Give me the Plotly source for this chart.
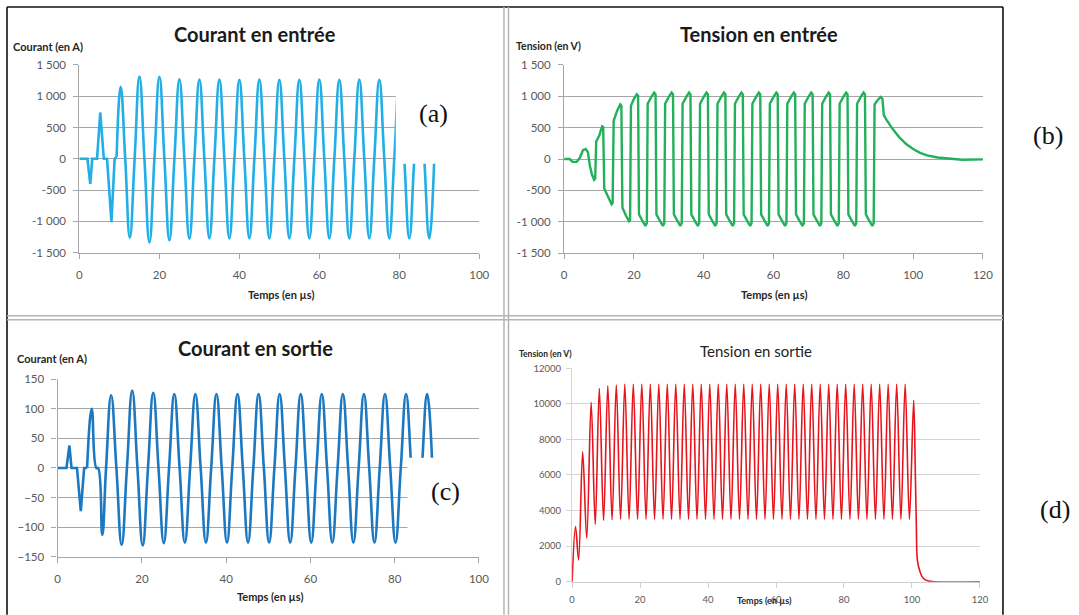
import plotly.graph_objects as go

W, H = 1079, 615

# ---------------- (a) Courant en entrée ----------------
t_a = [0, 2.0, 2.7, 3.2, 4.4, 5.2, 6.1, 6.9, 8.0, 8.8, 9.3, 10.3,
       11.45, 12.6, 13.8,
       15.0, 16.25, 17.5, 18.75, 20.0, 21.25, 22.5, 23.75,
       25.0, 26.25, 27.5, 28.75, 30.0, 31.25, 32.5, 33.75,
       35.0, 36.25, 37.5, 38.75, 40.0, 41.25, 42.5, 43.75,
       45.0, 46.25, 47.5, 48.75, 50.0, 51.25, 52.5, 53.75,
       55.0, 56.25, 57.5, 58.75, 60.0, 61.25, 62.5, 63.75,
       65.0, 66.25, 67.5, 68.75, 70.0, 71.25, 72.5, 73.75,
       75.0, 76.25, 77.5, 78.75, 80.0, 81.25, 82.5, 83.75,
       85.0, 86.25, 87.5, 88.75]
v_a = [0, 0, -400, 0, 0, 740, 0, 0, -1010, 0, 30, 1150,
       0, -1260, 0,
       1315, 0, -1335, 0, 1310, 0, -1300, 0,
       1270, 0, -1275, 0, 1265, 0, -1270, 0,
       1265, 0, -1270, 0, 1260, 0, -1270, 0,
       1265, 0, -1270, 0, 1260, 0, -1270, 0,
       1260, 0, -1270, 0, 1265, 0, -1270, 0,
       1260, 0, -1270, 0, 1265, 0, -1270, 0,
       1260, 0, -1270, 0, 1260, 0, -1270, 0,
       1260, 0, -1270, 0]
A_SPLIT = 10  # index where the smooth oscillation starts

# ---------------- (b) Tension en entrée ----------------
t_b = [0, 1.6, 2.4, 3.6, 4.5, 5.4, 6.2, 6.8, 7.4, 8.0, 8.6, 8.9,
       9.2, 10.1, 10.9, 11.2, 11.5, 12.6, 13.6, 13.9,
       14.2, 15.2, 16.1, 16.4, 16.7, 17.7, 18.6, 18.9,
       19.15, 20.0, 20.8, 21.2, 21.45, 22.5, 23.3, 23.7,
       23.95, 25.0, 25.8, 26.2, 26.45, 27.5, 28.3, 28.7,
       28.95, 30.0, 30.8, 31.2, 31.45, 32.5, 33.3, 33.7,
       33.95, 35.0, 35.8, 36.2, 36.45, 37.5, 38.3, 38.7,
       38.95, 40.0, 40.8, 41.2, 41.45, 42.5, 43.3, 43.7,
       43.95, 45.0, 45.8, 46.2, 46.45, 47.5, 48.3, 48.7,
       48.95, 50.0, 50.8, 51.2, 51.45, 52.5, 53.3, 53.7,
       53.95, 55.0, 55.8, 56.2, 56.45, 57.5, 58.3, 58.7,
       58.95, 60.0, 60.8, 61.2, 61.45, 62.5, 63.3, 63.7,
       63.95, 65.0, 65.8, 66.2, 66.45, 67.5, 68.3, 68.7,
       68.95, 70.0, 70.8, 71.2, 71.45, 72.5, 73.3, 73.7,
       73.95, 75.0, 75.8, 76.2, 76.45, 77.5, 78.3, 78.7,
       78.95, 80.0, 80.8, 81.2, 81.45, 82.5, 83.3, 83.7,
       83.95, 85.0, 85.8, 86.2, 86.45, 87.5, 88.3, 88.7,
       88.95, 90.0, 90.7, 91.2, 91.6, 92.2, 93, 94, 95, 96, 98, 100,
       102, 104, 107, 110, 114, 120]
v_b = [0, 0, -45, -45, 20, 140, 160, 110, -110, -250, -330, -310,
       280, 380, 520, 510, -470, -610, -720, -700,
       610, 770, 870, 850, -770, -900, -990, -970,
       850, 960, 1030, 1010, -880, -990, -1065, -1020,
       880, 990, 1060, 1030, -880, -990, -1065, -1020,
       880, 990, 1060, 1030, -880, -990, -1065, -1020,
       880, 990, 1060, 1030, -880, -990, -1065, -1020,
       880, 990, 1060, 1030, -880, -990, -1065, -1020,
       880, 990, 1060, 1030, -880, -990, -1065, -1020,
       880, 990, 1060, 1030, -880, -990, -1065, -1020,
       880, 990, 1060, 1030, -880, -990, -1065, -1020,
       880, 990, 1060, 1030, -880, -990, -1065, -1020,
       880, 990, 1060, 1030, -880, -990, -1065, -1020,
       880, 990, 1060, 1030, -880, -990, -1065, -1020,
       880, 990, 1060, 1030, -880, -990, -1065, -1020,
       880, 990, 1060, 1030, -880, -990, -1065, -1020,
       880, 990, 1060, 1030, -880, -990, -1065, -1020,
       870, 950, 990, 960, 700, 640, 570, 490, 420, 350, 240, 160,
       100, 60, 25, 5, -10, -5]

# ---------------- (c) Courant en sortie ----------------
t_c = [0, 2.1, 2.8, 3.3, 4.6, 5.5, 6.3, 7.0, 8.1, 9.2, 9.6, 10.6, 11.5,
       12.7, 13.95, 15.2, 16.45,
       17.7, 18.95, 20.2, 21.45,
       22.7, 23.95, 25.2, 26.45,
       27.7, 28.95, 30.2, 31.45,
       32.7, 33.95, 35.2, 36.45,
       37.7, 38.95, 40.2, 41.45,
       42.7, 43.95, 45.2, 46.45,
       47.7, 48.95, 50.2, 51.45,
       52.7, 53.95, 55.2, 56.45,
       57.7, 58.95, 60.2, 61.45,
       62.7, 63.95, 65.2, 66.45,
       67.7, 68.95, 70.2, 71.45,
       72.7, 73.95, 75.2, 76.45,
       77.7, 78.95, 80.2, 81.45,
       82.7, 83.95, 85.2, 86.45,
       87.7, 88.95]
v_c = [0, 0, 38, 0, 0, -73, 0, 0, 100, 0, 0, -113, 0,
       123, 0, -130, 0,
       131, 0, -131, 0,
       127, 0, -127, 0,
       125, 0, -126, 0,
       125, 0, -126, 0,
       125, 0, -126, 0,
       125, 0, -126, 0,
       125, 0, -126, 0,
       125, 0, -126, 0,
       125, 0, -126, 0,
       125, 0, -126, 0,
       125, 0, -126, 0,
       125, 0, -126, 0,
       125, 0, -126, 0,
       125, 0, -126, 0,
       125, 0]
C_SPLIT = 7  # index where the smooth oscillation starts

# ---------------- (d) Tension en sortie ----------------
t_d = [0, 1.0, 1.9, 3.1, 4.3, 5.6, 6.8,
       8.0, 9.25, 10.5, 11.75, 13.0, 14.25, 15.5, 16.75, 18.0, 19.25,
       20.5, 21.75, 23.0, 24.25, 25.5, 26.75, 28.0, 29.25, 30.5, 31.75,
       33.0, 34.25, 35.5, 36.75, 38.0, 39.25, 40.5, 41.75, 43.0, 44.25,
       45.5, 46.75, 48.0, 49.25, 50.5, 51.75, 53.0, 54.25, 55.5, 56.75,
       58.0, 59.25, 60.5, 61.75, 63.0, 64.25, 65.5, 66.75, 68.0, 69.25,
       70.5, 71.75, 73.0, 74.25, 75.5, 76.75, 78.0, 79.25, 80.5, 81.75,
       83.0, 84.25, 85.5, 86.75, 88.0, 89.25, 90.5, 91.75, 93.0, 94.25,
       95.5, 96.75, 98.0, 99.25,
       100.5, 101.0, 101.3, 101.6, 102.4, 103.3, 104.8, 106.5, 120]
v_d = [0, 3100, 1230, 7300, 2450, 10080, 3230,
       10860, 3440, 11010, 3480, 11050, 3500, 11100, 3500, 11100, 3500,
       11100, 3500, 11100, 3500, 11100, 3500, 11100, 3500, 11100, 3500,
       11100, 3500, 11100, 3500, 11100, 3500, 11100, 3500, 11100, 3500,
       11100, 3500, 11100, 3500, 11100, 3500, 11100, 3500, 11100, 3500,
       11100, 3500, 11100, 3500, 11100, 3500, 11100, 3500, 11100, 3500,
       11100, 3500, 11100, 3500, 11100, 3500, 11100, 3500, 11100, 3500,
       11100, 3500, 11100, 3500, 11100, 3500, 11100, 3500, 11100, 3500,
       11100, 3500, 11100, 3500,
       10200, 6000, 3000, 1200, 550, 200, 40, 0, 0]

# tick labels
yt_ab = [-1500, -1000, -500, 0, 500, 1000, 1500]
yt_ab_txt = ["-1 500", "-1 000", "-500", "0", "500", "1 000", "1 500"]
xt_100 = [0, 20, 40, 60, 80, 100]
xt_120 = [0, 20, 40, 60, 80, 100, 120]
yt_c = [-150, -100, -50, 0, 50, 100, 150]
yt_d = [0, 2000, 4000, 6000, 8000, 10000, 12000]
yt_d_txt = ["0", "2000", "4000", "6000", "8000", "10000", "12000"]

# screenshot framing compensation (page -> picture mapping observed)
SX, OX, SY, OY = 0.986, 3.0, 0.981, 6.0


def X(px):
    return ((px - OX) / SX) / W


def Y(py):
    return 1 - ((py - OY) / SY) / H


col_a, col_b, col_c, col_d = "#22aee6", "#22b05a", "#1c78c0", "#e8141c"

fig = go.Figure()
fig.add_trace(go.Scatter(x=t_a[:A_SPLIT + 1], y=v_a[:A_SPLIT + 1], xaxis="x", yaxis="y", mode="lines",
                         line=dict(color=col_a, width=2.6),
                         showlegend=False, hoverinfo="skip"))
fig.add_trace(go.Scatter(x=t_a[A_SPLIT:], y=v_a[A_SPLIT:], xaxis="x", yaxis="y", mode="lines",
                         line=dict(color=col_a, width=2.6, shape="spline", smoothing=1.3),
                         showlegend=False, hoverinfo="skip"))
fig.add_trace(go.Scatter(x=t_b, y=v_b, xaxis="x2", yaxis="y2", mode="lines",
                         line=dict(color=col_b, width=2.4),
                         showlegend=False, hoverinfo="skip"))
fig.add_trace(go.Scatter(x=t_c[:C_SPLIT + 1], y=v_c[:C_SPLIT + 1], xaxis="x3", yaxis="y3", mode="lines",
                         line=dict(color=col_c, width=2.6),
                         showlegend=False, hoverinfo="skip"))
fig.add_trace(go.Scatter(x=t_c[C_SPLIT:], y=v_c[C_SPLIT:], xaxis="x3", yaxis="y3", mode="lines",
                         line=dict(color=col_c, width=2.6, shape="spline", smoothing=1.3),
                         showlegend=False, hoverinfo="skip"))
fig.add_trace(go.Scatter(x=t_d, y=v_d, xaxis="x4", yaxis="y4", mode="lines",
                         line=dict(color=col_d, width=1.6, shape="spline", smoothing=1),
                         showlegend=False, hoverinfo="skip"))

tickfont = dict(family="Lato", size=11.5, color="#595959")
tickfont_d = dict(family="Lato", size=9.5, color="#595959")
gc = "#a6a6a6"


def xax(domain, rng, vals, anchor, font=tickfont, color=gc, standoff=6):
    return dict(domain=domain, range=rng, tickvals=vals, anchor=anchor,
                showgrid=False, zeroline=False, showline=True, linecolor=color, linewidth=1.3,
                ticks="outside", ticklen=5, tickcolor=color, tickwidth=1.3,
                tickfont=font, ticklabelstandoff=standoff, fixedrange=True)


def yax(domain, rng, vals, anchor, text=None, font=tickfont, color=gc, gw=1.3, standoff=5):
    d = dict(domain=domain, range=rng, tickvals=vals, anchor=anchor,
             showgrid=True, gridcolor=color, gridwidth=gw, zeroline=False,
             showline=True, linecolor=color, linewidth=1.3,
             ticks="outside", ticklen=5, tickcolor=color, tickwidth=1.3,
             tickfont=font, ticklabelstandoff=standoff, fixedrange=True)
    if text is not None:
        d["ticktext"] = text
    return d


layout = dict(
    width=W, height=H, margin=dict(l=0, r=0, t=0, b=0),
    paper_bgcolor="white", plot_bgcolor="white", showlegend=False,
    xaxis=xax([X(79.3), X(478.3)], [0, 100], xt_100, "y"),
    yaxis=yax([Y(252.3), Y(64)], [-1500, 1500], yt_ab, "x", yt_ab_txt),
    xaxis2=xax([X(563), X(981)], [0, 120], xt_120, "y2"),
    yaxis2=yax([Y(252.8), Y(64)], [-1500, 1500], yt_ab, "x2", yt_ab_txt),
    xaxis3=xax([X(57.5), X(478)], [0, 100], xt_100, "y3"),
    yaxis3=yax([Y(557), Y(379)], [-150, 150], yt_c, "x3"),
    xaxis4=xax([X(571), X(978)], [0, 120], xt_120, "y4", font=tickfont_d, color="#cfcfcf", standoff=4),
    yaxis4=yax([Y(582), Y(368)], [0, 12000], yt_d, "x4", yt_d_txt, font=tickfont_d,
               color="#d4d4d4", gw=1.1, standoff=3),
)
fig.update_layout(**layout)

# ---- panel frames ----
shapes = []


def line(x0, y0, x1, y1, color, width):
    shapes.append(dict(type="line", xref="paper", yref="paper",
                       x0=X(x0), y0=Y(y0), x1=X(x1), y1=Y(y1),
                       line=dict(color=color, width=width), layer="below"))


line(7, 6, 1001, 6, "#111111", 1.6)
line(7, 6, 7, 615, "#111111", 1.6)
line(1001, 6, 1001, 615, "#111111", 1.6)
line(503, 6, 503, 615, "#b4b4b4", 1.5)
line(507.5, 6, 507.5, 615, "#b4b4b4", 1.5)
line(7, 315.5, 1001, 315.5, "#b4b4b4", 1.5)
line(7, 319.5, 1001, 319.5, "#b4b4b4", 1.5)

# white label boxes covering parts of the plots
for (x0, y0, x1, y1) in [(395, 77, 490, 163), (406.7, 457.7, 490, 549)]:
    shapes.append(dict(type="rect", xref="paper", yref="paper",
                       x0=X(x0), y0=Y(y1), x1=X(x1), y1=Y(y0),
                       fillcolor="white", line=dict(width=0), layer="above"))
fig.update_layout(shapes=shapes)

ann = []


def text(s, x, y, size, color="#1a1a1a", family="Lato", xanchor="center"):
    ann.append(dict(text=s, x=X(x), y=Y(y), xref="paper", yref="paper",
                    xanchor=xanchor, yanchor="middle", showarrow=False,
                    font=dict(family=family, size=size, color=color)))


# titles
text("<b>Courant en entrée</b>", 255, 33, 20)
text("<b>Tension en entrée</b>", 758, 33, 20)
text("<b>Courant en sortie</b>", 255, 348, 20)
text("Tension en sortie", 755, 351, 15, color="#222222")
# axis titles
text("<b>Courant (en A)</b>", 11, 46, 11, color="#262626", xanchor="left")
text("<b>Tension (en V)</b>", 513, 45, 10.5, color="#262626", xanchor="left")
text("<b>Courant (en A)</b>", 15, 358, 11, color="#262626", xanchor="left")
text("<b>Tension (en V)</b>", 516, 354, 8.5, color="#262626", xanchor="left")
text("<b>Temps (en µs)</b>", 280, 294, 11, color="#262626")
text("<b>Temps (en µs)</b>", 772, 294, 11, color="#262626")
text("<b>Temps (en µs)</b>", 269, 597, 11, color="#262626")
text("<b>Temps (en µs)</b>", 763, 601, 9, color="#262626")
# panel letters
text("(a)", 433, 113, 26, color="#111111", family="Liberation Serif")
text("(b)", 1046, 135, 26, color="#111111", family="Liberation Serif")
text("(c)", 445, 492, 26, color="#111111", family="Liberation Serif")
text("(d)", 1053, 510, 26, color="#111111", family="Liberation Serif")
fig.update_layout(annotations=ann)

fig.write_html("out.html", config={"displayModeBar": False},
               post_script="document.body.style.margin='0px';document.body.style.overflow='hidden';")
